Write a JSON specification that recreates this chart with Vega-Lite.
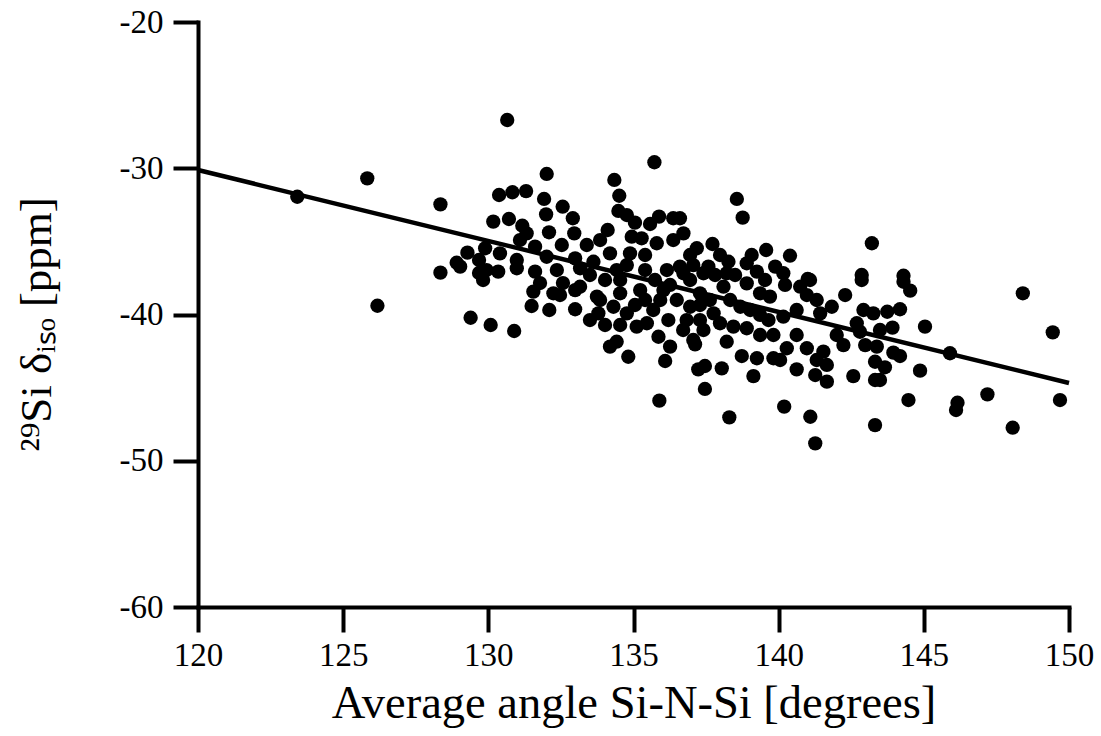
{
  "$schema": "https://vega.github.io/schema/vega-lite/v6.json",
  "width": 871,
  "height": 585,
  "autosize": {"type": "none"},
  "padding": {"left": 198, "top": 22, "right": 32, "bottom": 129},
  "background": "white",
  "config": {"view": {"stroke": null}},
  "datasets": {
    "points": [
      {"angle":123.42,"shift":-31.95},{"angle":125.83,"shift":-30.69},{"angle":126.18,"shift":-39.40},{"angle":128.35,"shift":-32.47},
      {"angle":128.35,"shift":-37.14},{"angle":129.28,"shift":-35.77},{"angle":128.91,"shift":-36.46},{"angle":129.03,"shift":-36.73},
      {"angle":129.68,"shift":-36.27},{"angle":129.68,"shift":-37.16},{"angle":129.39,"shift":-40.22},{"angle":130.08,"shift":-40.72},
      {"angle":130.89,"shift":-41.13},{"angle":130.65,"shift":-26.70},{"angle":135.72,"shift":-29.59},{"angle":132.01,"shift":-30.39},
      {"angle":134.34,"shift":-30.80},{"angle":130.37,"shift":-31.83},{"angle":130.83,"shift":-31.64},{"angle":131.30,"shift":-31.56},
      {"angle":131.92,"shift":-32.10},{"angle":134.51,"shift":-31.88},{"angle":132.56,"shift":-32.63},{"angle":131.99,"shift":-33.15},
      {"angle":134.48,"shift":-32.92},{"angle":132.91,"shift":-33.42},{"angle":134.77,"shift":-33.20},{"angle":135.05,"shift":-33.72},
      {"angle":130.17,"shift":-33.65},{"angle":130.71,"shift":-33.47},{"angle":131.17,"shift":-33.93},{"angle":135.88,"shift":-33.31},
      {"angle":136.37,"shift":-33.42},{"angle":135.57,"shift":-33.81},{"angle":134.11,"shift":-34.22},{"angle":132.96,"shift":-34.45},
      {"angle":132.09,"shift":-34.38},{"angle":131.09,"shift":-34.91},{"angle":131.32,"shift":-34.45},{"angle":134.94,"shift":-34.68},
      {"angle":135.28,"shift":-34.79},{"angle":133.39,"shift":-35.25},{"angle":133.85,"shift":-34.91},{"angle":131.61,"shift":-35.36},
      {"angle":132.53,"shift":-35.25},{"angle":135.80,"shift":-35.13},{"angle":136.37,"shift":-34.91},{"angle":129.89,"shift":-35.47},
      {"angle":130.40,"shift":-35.82},{"angle":134.19,"shift":-35.82},{"angle":134.88,"shift":-35.82},{"angle":130.98,"shift":-36.27},
      {"angle":132.01,"shift":-36.05},{"angle":132.99,"shift":-36.16},{"angle":133.62,"shift":-36.39},{"angle":134.77,"shift":-36.62},
      {"angle":129.94,"shift":-36.96},{"angle":130.34,"shift":-37.07},{"angle":130.98,"shift":-36.84},{"angle":131.61,"shift":-37.07},
      {"angle":132.36,"shift":-36.96},{"angle":133.16,"shift":-36.84},{"angle":134.42,"shift":-36.96},{"angle":136.15,"shift":-36.96},
      {"angle":136.60,"shift":-36.73},{"angle":138.56,"shift":-32.10},{"angle":138.76,"shift":-33.38},{"angle":143.21,"shift":-35.13},
      {"angle":136.60,"shift":-33.42},{"angle":136.72,"shift":-34.45},{"angle":137.72,"shift":-35.18},{"angle":137.18,"shift":-35.47},
      {"angle":139.57,"shift":-35.59},{"angle":140.39,"shift":-35.98},{"angle":139.07,"shift":-35.93},{"angle":138.27,"shift":-36.39},
      {"angle":138.90,"shift":-36.50},{"angle":137.06,"shift":-36.62},{"angle":137.58,"shift":-36.73},{"angle":139.88,"shift":-36.73},
      {"angle":140.16,"shift":-37.18},{"angle":139.25,"shift":-37.07},{"angle":138.21,"shift":-37.18},{"angle":141.00,"shift":-37.57},
      {"angle":142.86,"shift":-37.30},{"angle":136.72,"shift":-37.18},{"angle":137.41,"shift":-37.18},{"angle":144.30,"shift":-37.35},
      {"angle":131.49,"shift":-39.42},{"angle":132.10,"shift":-39.69},{"angle":132.99,"shift":-39.64},{"angle":133.79,"shift":-39.92},
      {"angle":131.55,"shift":-38.44},{"angle":132.24,"shift":-38.55},{"angle":133.16,"shift":-38.10},{"angle":135.11,"shift":-40.83},
      {"angle":135.46,"shift":-40.60},{"angle":135.86,"shift":-41.52},{"angle":136.26,"shift":-42.20},{"angle":135.68,"shift":-39.69},
      {"angle":134.77,"shift":-39.92},{"angle":134.31,"shift":-39.47},{"angle":133.74,"shift":-38.78},{"angle":134.54,"shift":-38.55},
      {"angle":135.23,"shift":-38.33},{"angle":136.03,"shift":-38.33},{"angle":136.49,"shift":-39.01},{"angle":132.57,"shift":-37.85},
      {"angle":131.78,"shift":-37.85},{"angle":129.82,"shift":-37.64},{"angle":134.19,"shift":-42.20},{"angle":134.42,"shift":-41.86},
      {"angle":134.82,"shift":-42.89},{"angle":136.09,"shift":-43.18},{"angle":135.89,"shift":-45.89},{"angle":137.12,"shift":-42.04},
      {"angle":137.23,"shift":-43.75},{"angle":137.46,"shift":-43.52},{"angle":138.04,"shift":-43.68},{"angle":137.46,"shift":-45.09},
      {"angle":139.13,"shift":-44.21},{"angle":138.30,"shift":-47.03},{"angle":140.19,"shift":-46.30},{"angle":141.09,"shift":-46.99},
      {"angle":141.26,"shift":-48.81},{"angle":143.32,"shift":-47.56},{"angle":142.57,"shift":-44.21},{"angle":143.32,"shift":-44.48},
      {"angle":141.66,"shift":-44.59},{"angle":141.26,"shift":-44.14},{"angle":140.62,"shift":-43.75},{"angle":140.05,"shift":-43.11},
      {"angle":139.82,"shift":-42.99},{"angle":139.25,"shift":-42.99},{"angle":138.73,"shift":-42.84},{"angle":140.28,"shift":-42.31},
      {"angle":140.62,"shift":-41.40},{"angle":140.97,"shift":-42.31},{"angle":141.54,"shift":-42.54},{"angle":141.66,"shift":-43.45},
      {"angle":141.31,"shift":-43.11},{"angle":142.23,"shift":-42.09},{"angle":142.00,"shift":-41.40},{"angle":142.80,"shift":-41.18},
      {"angle":142.98,"shift":-42.09},{"angle":143.32,"shift":-43.23},{"angle":143.38,"shift":-42.20},{"angle":138.21,"shift":-41.86},
      {"angle":138.44,"shift":-40.83},{"angle":137.98,"shift":-40.60},{"angle":137.41,"shift":-41.06},{"angle":136.83,"shift":-40.38},
      {"angle":139.36,"shift":-41.40},{"angle":139.82,"shift":-41.40},{"angle":138.90,"shift":-40.94},{"angle":139.65,"shift":-40.38},
      {"angle":140.16,"shift":-40.15},{"angle":140.62,"shift":-39.69},{"angle":141.43,"shift":-39.92},{"angle":141.83,"shift":-39.47},
      {"angle":142.29,"shift":-38.67},{"angle":141.31,"shift":-39.01},{"angle":140.97,"shift":-38.67},{"angle":140.74,"shift":-38.10},
      {"angle":140.22,"shift":-37.98},{"angle":139.70,"shift":-38.78},{"angle":139.36,"shift":-38.55},{"angle":138.90,"shift":-37.87},
      {"angle":138.10,"shift":-38.10},{"angle":137.29,"shift":-38.55},{"angle":142.92,"shift":-39.69},{"angle":143.26,"shift":-39.92},
      {"angle":142.86,"shift":-37.64},{"angle":141.08,"shift":-37.64},{"angle":138.68,"shift":-39.47},{"angle":137.76,"shift":-39.92},
      {"angle":136.95,"shift":-39.47},{"angle":142.69,"shift":-40.60},{"angle":148.41,"shift":-38.55},{"angle":149.44,"shift":-41.22},
      {"angle":144.53,"shift":-38.37},{"angle":144.18,"shift":-39.64},{"angle":143.74,"shift":-39.81},{"angle":143.92,"shift":-40.90},
      {"angle":145.04,"shift":-40.83},{"angle":145.90,"shift":-42.65},{"angle":143.95,"shift":-42.61},{"angle":144.18,"shift":-42.84},
      {"angle":143.66,"shift":-43.61},{"angle":143.49,"shift":-44.48},{"angle":144.87,"shift":-43.84},{"angle":144.47,"shift":-45.85},
      {"angle":146.16,"shift":-46.03},{"angle":146.11,"shift":-46.53},{"angle":147.19,"shift":-45.46},{"angle":148.06,"shift":-47.74},
      {"angle":149.69,"shift":-45.85},{"angle":143.49,"shift":-41.06},{"angle":144.30,"shift":-37.76},
      {"angle":133.50,"shift":-37.30},{"angle":134.02,"shift":-37.64},{"angle":134.54,"shift":-37.64},{"angle":135.40,"shift":-36.96},
      {"angle":135.74,"shift":-37.64},{"angle":136.26,"shift":-37.98},{"angle":136.95,"shift":-37.64},{"angle":133.85,"shift":-39.01},
      {"angle":135.40,"shift":-39.01},{"angle":135.92,"shift":-39.01},{"angle":135.05,"shift":-39.35},{"angle":137.29,"shift":-39.35},
      {"angle":137.63,"shift":-39.01},{"angle":138.33,"shift":-39.01},{"angle":139.02,"shift":-39.69},{"angle":137.81,"shift":-37.30},
      {"angle":138.50,"shift":-37.30},{"angle":139.53,"shift":-37.64},{"angle":132.47,"shift":-38.67},{"angle":133.50,"shift":-40.38},
      {"angle":134.02,"shift":-40.72},{"angle":136.71,"shift":-41.06},{"angle":137.06,"shift":-41.74},{"angle":136.20,"shift":-40.38},
      {"angle":137.29,"shift":-40.38},{"angle":139.36,"shift":-40.03},{"angle":134.54,"shift":-40.72},{"angle":132.99,"shift":-38.33},
      {"angle":135.40,"shift":-35.93},{"angle":136.95,"shift":-35.93},{"angle":137.98,"shift":-35.93}
    ],
    "fit": [
      {"angle":120,"shift":-30.12},{"angle":150,"shift":-44.68}
    ]
  },
  "layer": [
    {
      "data": {"name": "fit"},
      "mark": {"type": "line", "color": "black", "strokeWidth": 4.5},
      "encoding": {
        "x": {"field": "angle", "type": "quantitative", "scale": {"domain": [120, 150], "nice": false, "zero": false},
          "axis": {"values": [120,125,130,135,140,145,150], "title": "Average angle Si-N-Si [degrees]", "grid": false,
            "domainWidth": 4, "domainColor": "black", "domainCap": "square", "tickColor": "black", "tickWidth": 4, "tickSize": 25,
            "labelFontSize": 33, "labelFont": "Liberation Serif", "labelColor": "black", "labelPadding": 7, "labelFlush": false, "labelOverlap": false,
            "titleFont": "Liberation Serif", "titleFontSize": 46.5, "titleFontWeight": "normal", "titleColor": "black", "titlePadding": 8}},
        "y": {"field": "shift", "type": "quantitative", "scale": {"domain": [-60, -20], "nice": false, "zero": false},
          "axis": {"values": [-20,-30,-40,-50,-60], "title": "²⁹Si δᵢₛₒ [ppm]", "grid": false,
            "labelExpr": "'-' + abs(datum.value)",
            "domainWidth": 4, "domainColor": "black", "domainCap": "square", "tickColor": "black", "tickWidth": 4, "tickSize": 25,
            "labelFontSize": 33, "labelFont": "Liberation Serif", "labelColor": "black", "labelPadding": 10, "labelFlush": false, "labelOverlap": false,
            "titleFont": "Liberation Serif", "titleFontSize": 45, "titleFontWeight": "normal", "titleColor": "black", "titlePadding": 60, "titleY": 302}}
      }
    },
    {
      "data": {"name": "points"},
      "mark": {"type": "circle", "size": 205, "color": "black", "opacity": 1},
      "encoding": {
        "x": {"field": "angle", "type": "quantitative"},
        "y": {"field": "shift", "type": "quantitative"}
      }
    }
  ]
}
